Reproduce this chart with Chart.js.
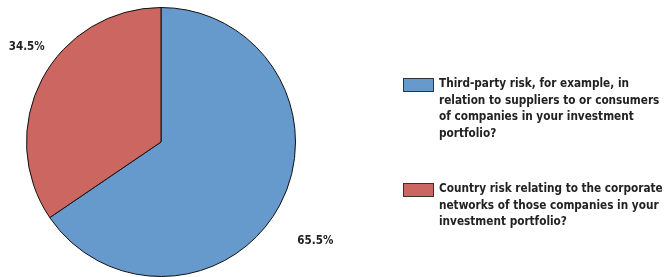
<!DOCTYPE html>
<html><head><meta charset="utf-8">
<script src="https://cdn.jsdelivr.net/npm/chart.js@4/dist/chart.umd.min.js"></script>
<style>
html,body{margin:0;padding:0;background:#fff;}
#wrap{position:relative;width:668px;height:277px;}
#legend{position:absolute;left:403px;top:75px;font-family:"DejaVu Sans Condensed","Open Sans",sans-serif;font-weight:bold;font-size:11.7px;line-height:16.5px;color:#222;}
.item{display:flex;align-items:flex-start;margin-bottom:39px;}
.box{width:29px;height:12px;border:1px solid #333;margin-top:3px;margin-right:5px;flex:none;}
.txt{white-space:nowrap;}
</style></head>
<body>
<div id="wrap"><canvas id="c" width="668" height="277"></canvas>
<div id="legend"></div></div>
<script>
const categories = [
  "Third-party risk, for example, in relation to suppliers to or consumers of companies in your investment portfolio?",
  "Country risk relating to the corporate networks of those companies in your investment portfolio?"
];
const legendLines = [
  ["Third-party risk, for example, in","relation to suppliers to or consumers","of companies in your investment","portfolio?"],
  ["Country risk relating to the corporate","networks of those companies in your","investment portfolio?"]
];
const values = [65.5, 34.5];
const valueLabels = ["65.5%", "34.5%"];
const colors = ["#6699CC", "#CC6660"];

const labelPlugin = {
  id: 'outLabels',
  afterDatasetsDraw(chart) {
    const ctx = chart.ctx;
    const meta = chart.getDatasetMeta(0);
    const offs = [[16, 26], [4, -22]];
    ctx.save();
    ctx.font = 'bold 11.5px "DejaVu Sans Condensed",sans-serif';
    ctx.fillStyle = '#222';
    ctx.textAlign = 'center';
    ctx.textBaseline = 'middle';
    meta.data.forEach((arc, i) => {
      const p = arc.getProps(['x','y','startAngle','endAngle','outerRadius']);
      const mid = (p.startAngle + p.endAngle) / 2;
      const r = p.outerRadius + 22;
      const x = p.x + Math.cos(mid) * r + offs[i][0];
      const y = p.y + Math.sin(mid) * r + offs[i][1];
      ctx.fillText(valueLabels[i], x, y);
    });
    ctx.restore();
  }
};

new Chart(document.getElementById('c'), {
  type: 'pie',
  data: {
    labels: categories,
    datasets: [{ data: values, backgroundColor: colors, borderColor: '#111', borderWidth: 1 }]
  },
  options: {
    responsive: false,
    animation: false,
    layout: { padding: { left: 26, right: 372, top: 7, bottom: 0 } },
    plugins: { legend: { display: false }, tooltip: { enabled: false } }
  },
  plugins: [labelPlugin]
});

const lg = document.getElementById('legend');
legendLines.forEach((lines, i) => {
  const it = document.createElement('div'); it.className = 'item';
  const b = document.createElement('div'); b.className = 'box'; b.style.background = colors[i];
  const t = document.createElement('div'); t.className = 'txt'; t.innerHTML = lines.join('<br>');
  it.appendChild(b); it.appendChild(t); lg.appendChild(it);
});
</script>
</body></html>
